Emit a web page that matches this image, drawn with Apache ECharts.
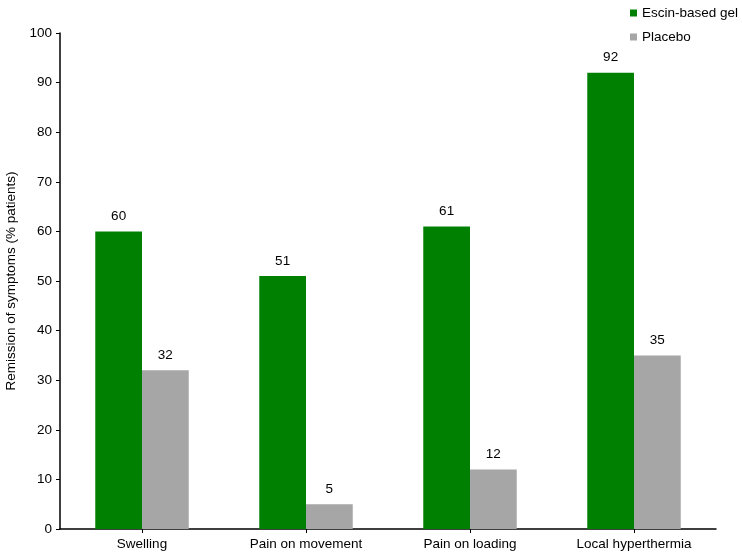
<!DOCTYPE html>
<html><head><meta charset="utf-8">
<script src="https://cdn.jsdelivr.net/npm/echarts@6/dist/echarts.min.js"></script>
<style>html,body{margin:0;padding:0;background:#fff}#c{width:742px;height:556px}</style>
</head><body><div id="c"></div>
<script>
const categories = ["Swelling", "Pain on movement", "Pain on loading", "Local hyperthermia"];
const escinValues = [60, 51, 61, 92];
const placeboValues = [32, 5, 12, 35];
const seriesNames = ["Escin-based gel", "Placebo"];
const yTicks = [0, 10, 20, 30, 40, 50, 60, 70, 80, 90, 100];

const font = "Liberation Sans, Arial, sans-serif";
const fs = 13.5;
const chart = echarts.init(document.getElementById('c'));
chart.setOption({
  animation: false,
  backgroundColor: '#fff',
  textStyle: {fontFamily: font},
  grid: {left: 60, right: 26, top: 33, bottom: 27, containLabel: false, outerBoundsMode: 'none'},
  legend: {
    orient: 'vertical', left: 630, top: 6, padding: 0, itemWidth: 7, itemHeight: 7, itemGap: 10,
    icon: 'rect',
    textStyle: {fontFamily: font, fontSize: fs, color: '#000'},
    data: seriesNames
  },
  xAxis: {
    type: 'category', data: categories,
    axisLine: {lineStyle: {color: '#000', width: 1.5}},
    axisTick: {show: true, alignWithLabel: true, length: 4, lineStyle: {color: '#000'}},
    axisLabel: {fontFamily: font, fontSize: fs, color: '#000', margin: 8}
  },
  yAxis: {
    type: 'value', min: yTicks[0], max: yTicks[yTicks.length - 1], interval: 10,
    name: 'Remission of symptoms (% patients)', nameLocation: 'middle', nameGap: 42,
    nameTextStyle: {fontFamily: font, fontSize: fs, color: '#000'},
    axisLine: {show: true, lineStyle: {color: '#000', width: 1.5}},
    axisTick: {show: true, length: 4, lineStyle: {color: '#000'}},
    splitLine: {show: false},
    axisLabel: {fontFamily: font, fontSize: fs, color: '#000', margin: 8}
  },
  series: [
    {name: seriesNames[0], type: 'bar', data: escinValues, barGap: '0%', barCategoryGap: '43%',
     itemStyle: {color: '#008000'},
     label: {show: true, position: 'top', distance: 8, fontFamily: font, fontSize: fs, color: '#000'}},
    {name: seriesNames[1], type: 'bar', data: placeboValues, barGap: '0%', barCategoryGap: '43%',
     itemStyle: {color: '#a6a6a6'},
     label: {show: true, position: 'top', distance: 8, fontFamily: font, fontSize: fs, color: '#000'}}
  ]
});
</script></body></html>
